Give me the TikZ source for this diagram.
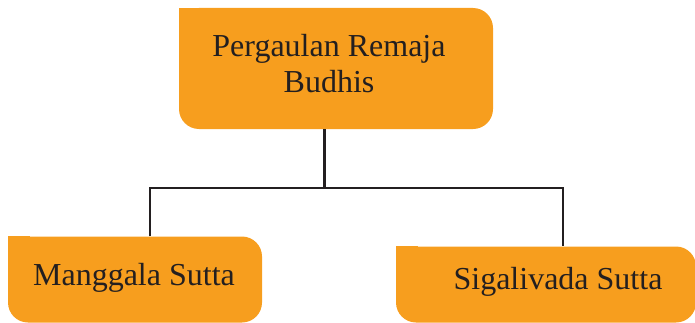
\documentclass[tikz,border=0pt]{standalone}
\usepackage{fontspec}
\setmainfont{Liberation Serif}
\usepackage{xcolor}
\usepackage{tikz}
\usetikzlibrary{positioning}

\definecolor{boxorange}{RGB}{247,158,30}
\definecolor{inkgray}{RGB}{35,31,32}

\begin{document}
\begin{tikzpicture}[x=1pt, y=1pt,
    orangebox/.style={fill=boxorange, rounded corners=20pt, inner sep=0pt},
    boxtext/.style={text=inkgray, align=center, inner sep=0pt,
      font=\fontsize{32}{36}\selectfont},
    link/.style={draw=inkgray, line width=2.6pt}]

    \useasboundingbox (0, 0) rectangle (695, 322);

    % boxes
    \node [orangebox, minimum width=314pt, minimum height=121pt] (top) at (336, 253.5) {};
    \node [orangebox, minimum width=254pt, minimum height=86pt] (left) at (135, 42.5) {};
    \node [orangebox, minimum width=300pt, minimum height=76pt] (right) at (546, 37.5) {};
    % square top-left corners
    \foreach \b in {top, left, right} {
      \fill [boxorange] (\b.north west) rectangle ([shift={(22pt, -22pt)}]\b.north west);
    }

    % texts
    \node [boxtext] (toptext) at ([shift={(-7pt, 5pt)}]top.center) {Pergaulan Remaja\\Budhis};
    \node [boxtext] (lefttext) at ([shift={(-1pt, 2pt)}]left.center) {Manggala Sutta};
    \node [boxtext] (righttext) at ([shift={(12pt, 3pt)}]right.center) {Sigalivada Sutta};

    % connectors
    \coordinate (hub) at (324.5, 134);
    \draw [link] (top.south -| hub) -- (hub);
    \draw [link] ([xshift=15pt]left.north) |- (hub) -| ([xshift=17pt]right.north);

  \end{tikzpicture}
\end{document}
